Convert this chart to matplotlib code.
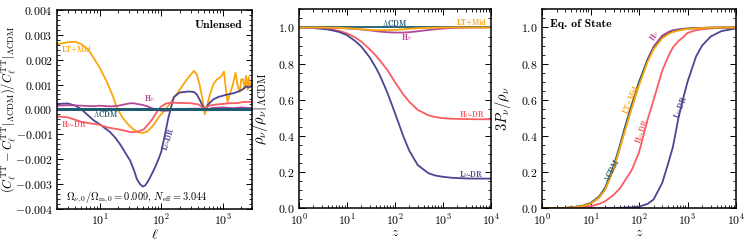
import numpy as np
import matplotlib
matplotlib.use("Agg")
from matplotlib import pyplot as plt
from matplotlib.ticker import AutoMinorLocator, MultipleLocator, LogLocator, NullFormatter

plt.rcParams["font.family"] = "serif"
plt.rcParams["font.serif"] = ["cmr10"]
plt.rcParams["mathtext.fontset"] = "cm"
plt.rcParams["axes.formatter.use_mathtext"] = True
plt.rcParams["axes.unicode_minus"] = True

c_lcdm = "#1f5b70"
c_lt = "#fba60d"
c_h = "#b4479b"
c_hdr = "#fb5c61"
c_ldr = "#4b4592"

# ---- panel 1: unlensed TT residuals ----
ell_lcdm = [2, 3000]
res_lcdm = [0.0, 0.0]

ell_lt = [2, 3, 4, 5, 6.5, 8, 10, 13, 16.5, 19, 23, 28, 35, 42, 50, 60, 75, 95, 120, 150,
          200, 270, 340, 380, 420, 470, 510, 560, 620, 700, 800, 930, 1050, 1130, 1200, 1300,
          1450, 1620, 1750, 1900, 2000, 2140, 2280, 2400, 2550, 2650, 2800, 3000]
res_lt = [2.62, 2.70, 2.72, 2.62, 2.40, 2.05, 1.66, 1.10, 0.50, 0.05, -0.30, -0.57, -0.80, -0.92,
          -0.95, -0.88, -0.62, -0.25, 0.02, 0.35, 0.80, 1.25, 1.55, 1.40, 1.00, 0.40, -0.20, 0.15,
          0.60, 1.00, 1.20, 1.30, 1.52, 0.80, 0.30, 0.60, 0.95, 1.47, 0.95, 0.70, 1.20, 1.22, 0.85,
          1.35, 0.80, 1.30, 0.95, 1.10]

ell_ldr = [2, 3, 4, 5, 6.5, 8, 10, 12, 14.5, 18, 22, 26, 31, 36, 40, 45, 50, 55, 62, 70, 80, 90,
           100, 115, 130, 145, 160, 200, 280, 340, 380, 420, 470, 520, 580, 700, 850, 1000, 1200,
           1500, 1800, 2100, 2400, 2700, 3000]
res_ldr = [0.22, 0.24, 0.15, 0.0, -0.25, -0.45, -0.60, -0.75, -0.90, -1.15, -1.45, -1.75, -2.05,
           -2.45, -2.80, -3.00, -3.10, -3.05, -2.85, -2.60, -2.30, -2.00, -1.70, -1.00, -0.35, 0.10,
           0.50, 0.68, 0.72, 0.70, 0.60, 0.40, 0.15, 0.02, 0.20, 0.40, 0.50, 0.55, 0.60, 0.65, 0.72,
           0.80, 0.92, 0.88, 0.95]

ell_hdr = [2, 3, 4, 5, 6.5, 8, 10, 13, 16, 20, 25, 30, 35, 40, 45, 52, 60, 70, 80, 90, 100, 120,
           150, 200, 300, 400, 470, 520, 600, 800, 1000, 1300, 1700, 2200, 3000]
res_hdr = [-0.28, -0.32, -0.42, -0.50, -0.55, -0.58, -0.62, -0.72, -0.76, -0.80, -0.85, -0.90,
           -0.92, -0.90, -0.86, -0.80, -0.62, -0.42, -0.20, 0.0, 0.12, 0.24, 0.27, 0.26, 0.25, 0.20,
           0.08, 0.05, 0.15, 0.20, 0.22, 0.25, 0.25, 0.30, 0.30]

ell_h = [2, 3, 5, 8, 10, 15, 20, 25, 30, 35, 40, 50, 60, 70, 80, 100, 130, 170, 250, 350, 450,
         500, 550, 700, 1000, 1500, 2000, 2500, 3000]
res_h = [0.15, 0.17, 0.15, 0.13, 0.15, 0.12, 0.15, 0.20, 0.24, 0.25, 0.22, 0.18, 0.12, 0.05, 0.0,
         -0.05, -0.05, 0.0, 0.02, 0.03, 0.02, -0.02, 0.0, 0.06, 0.08, 0.05, 0.08, 0.06, 0.06]

# ---- panel 2: density ratio ----
z_rho = [1, 1.5, 2, 3, 4, 5, 7, 10, 15, 20, 30, 40, 50, 70, 100, 150, 200, 300, 500, 700, 1000,
         1500, 2000, 3000, 5000, 10000]
rho_lcdm = [1.0] * len(z_rho)
rho_lt = [1.0, 1.0, 1.0, 1.0, 0.999, 0.999, 0.998, 0.996, 0.993, 0.990, 0.987, 0.985, 0.985,
          0.985, 0.987, 0.990, 0.993, 0.996, 0.998, 0.999, 1.0, 1.0, 1.0, 1.0, 1.0, 1.0]
rho_h = [1.0, 1.0, 1.0, 0.999, 0.999, 0.998, 0.997, 0.995, 0.992, 0.989, 0.984, 0.980, 0.977,
         0.974, 0.972, 0.972, 0.974, 0.979, 0.986, 0.990, 0.994, 0.997, 0.998, 0.999, 1.0, 1.0]
rho_hdr = [1.0, 0.999, 0.998, 0.995, 0.992, 0.988, 0.981, 0.968, 0.945, 0.922, 0.880, 0.845, 0.815,
           0.765, 0.700, 0.630, 0.590, 0.545, 0.515, 0.505, 0.499, 0.496, 0.495, 0.494, 0.493, 0.493]
rho_ldr = [1.0, 0.999, 0.997, 0.993, 0.989, 0.984, 0.975, 0.958, 0.925, 0.895, 0.835, 0.780,
           0.730, 0.640, 0.530, 0.400, 0.320, 0.240, 0.195, 0.182, 0.175, 0.170, 0.168, 0.166,
           0.165, 0.165]

# ---- panel 3: equation of state ----
z_eos = [1, 2, 3, 5, 7, 10, 15, 20, 30, 40, 50, 70, 100, 150, 200, 300, 400, 500, 650, 800,
         1000, 1500, 2000, 3000, 5000, 10000]
eos_lcdm = [0.0, 0.001, 0.003, 0.009, 0.016, 0.030, 0.066, 0.115, 0.235, 0.345, 0.440, 0.570,
            0.700, 0.820, 0.885, 0.945, 0.967, 0.978, 0.986, 0.990, 0.993, 0.996, 0.998, 0.999,
            1.0, 1.0]
eos_lt = [0.0, 0.001, 0.003, 0.008, 0.014, 0.026, 0.060, 0.105, 0.220, 0.330, 0.420, 0.550, 0.680,
          0.810, 0.880, 0.940, 0.963, 0.975, 0.983, 0.988, 0.992, 0.995, 0.997, 0.999, 1.0, 1.0]
eos_h = [0.0, 0.001, 0.003, 0.008, 0.014, 0.026, 0.060, 0.105, 0.222, 0.333, 0.425, 0.557, 0.690,
         0.825, 0.895, 0.955, 0.975, 0.985, 0.990, 0.993, 0.995, 0.997, 0.998, 0.999, 1.0, 1.0]
eos_hdr = [0.0, 0.0, 0.001, 0.003, 0.006, 0.012, 0.025, 0.040, 0.075, 0.110, 0.150, 0.210, 0.310,
           0.490, 0.600, 0.760, 0.840, 0.890, 0.925, 0.945, 0.970, 0.985, 0.990, 0.995, 0.998, 1.0]
eos_ldr = [0.0, 0.0, 0.0, 0.0, 0.0, 0.0, 0.0, 0.001, 0.002, 0.003, 0.005, 0.006, 0.010, 0.025,
           0.050, 0.140, 0.250, 0.340, 0.500, 0.600, 0.700, 0.840, 0.900, 0.950, 0.980, 0.995]


def style_axis(ax):
    ax.tick_params(which="both", direction="in", top=True, right=True, labelsize=8.5, pad=3)
    ax.tick_params(which="major", length=4, width=0.7)
    ax.tick_params(which="minor", length=2, width=0.6)
    for s in ax.spines.values():
        s.set_linewidth(1.1)
    ax.xaxis.set_minor_locator(LogLocator(base=10, subs=np.arange(2, 10) * 1.0, numticks=20))
    ax.xaxis.set_minor_formatter(NullFormatter())


def label(ax, x, y, s, color, rot=0, size=5.5, ha="center"):
    ax.text(x, y, s, color=color, fontsize=size, rotation=rot, ha=ha, va="center",
            family="cmb10", rotation_mode="anchor")


fig = plt.figure(figsize=(7.47, 2.41), dpi=100)
ax1 = fig.add_axes([0.0763, 0.133, 0.261, 0.826])
ax2 = fig.add_axes([0.400, 0.135, 0.257, 0.826])
ax3 = fig.add_axes([0.7256, 0.135, 0.2597, 0.826])

lw = 1.3
ax1.plot(ell_lt, np.array(res_lt) * 1e-3, color=c_lt, lw=lw)
ax1.plot(ell_ldr, np.array(res_ldr) * 1e-3, color=c_ldr, lw=lw)
ax1.plot(ell_hdr, np.array(res_hdr) * 1e-3, color=c_hdr, lw=lw)
ax1.plot(ell_h, np.array(res_h) * 1e-3, color=c_h, lw=lw)
ax1.plot(ell_lcdm, res_lcdm, color=c_lcdm, lw=2.2)
ax1.set_xscale("log")
ax1.set_xlim(2, 3000)
ax1.set_ylim(-0.004, 0.004)
ax1.yaxis.set_major_locator(MultipleLocator(0.001))
ax1.yaxis.set_minor_locator(AutoMinorLocator(5))
ax1.yaxis.set_major_formatter(plt.FuncFormatter(lambda v, p: f"${v:.3f}$"))
style_axis(ax1)
ax1.set_xlabel(r"$\ell$", fontsize=10)
ax1.xaxis.set_label_coords(0.5, -0.095)
ax1.set_ylabel(r"$(C_\ell^{\rm TT}-C_\ell^{\rm TT}|_{\Lambda{\rm CDM}})/C_\ell^{\rm TT}|_{\Lambda{\rm CDM}}$",
               fontsize=9)
ax1.yaxis.set_label_coords(-0.2, 0.5)
ax1.text(0.95, 0.925, "Unlensed", transform=ax1.transAxes, ha="right", va="center",
         fontsize=8.5, family="cmb10")
ax1.text(0.045, 0.06, r"$\Omega_{\nu,0}/\Omega_{\rm m,0}=0.009$, $N_{\rm eff}=3.044$",
         transform=ax1.transAxes, ha="left", va="center", fontsize=7.5)
label(ax1, 2.35, 0.0024, "LT+Mid", c_lt, ha="left")
label(ax1, 66, 0.00045, r"H$\nu$", c_h)
label(ax1, 12.5, -0.00017, r"$\Lambda$CDM", c_lcdm)
label(ax1, 2.35, -0.00058, r"H$\nu$-DR", c_hdr, ha="left")
label(ax1, 130, -0.00118, r"L$\nu$-DR", c_ldr, rot=72)

ax2.plot(z_rho, rho_hdr, color=c_hdr, lw=lw)
ax2.plot(z_rho, rho_ldr, color=c_ldr, lw=lw)
ax2.plot(z_rho, rho_h, color=c_h, lw=lw)
ax2.plot(z_rho, rho_lcdm, color=c_lcdm, lw=lw)
ax2.plot(z_rho, rho_lt, color=c_lt, lw=lw)
ax2.set_xscale("log")
ax2.set_xlim(1, 1e4)
ax2.set_ylim(0, 1.1)
ax2.yaxis.set_major_locator(MultipleLocator(0.2))
ax2.yaxis.set_minor_locator(AutoMinorLocator(4))
ax2.yaxis.set_major_formatter(plt.FuncFormatter(lambda v, p: f"${v:.1f}$"))
style_axis(ax2)
ax2.set_xlabel(r"$z$", fontsize=10)
ax2.xaxis.set_label_coords(0.5, -0.095)
ax2.set_ylabel(r"$\rho_\nu/\rho_\nu|_{\Lambda{\rm CDM}}$", fontsize=10.5)
ax2.yaxis.set_label_coords(-0.15, 0.5)
label(ax2, 100, 1.024, r"$\Lambda$CDM", c_lcdm)
label(ax2, 4000, 1.024, "LT+Mid", c_lt)
label(ax2, 180, 0.95, r"H$\nu$", c_h)
label(ax2, 4000, 0.52, r"H$\nu$-DR", c_hdr)
label(ax2, 4000, 0.19, r"L$\nu$-DR", c_ldr)

ax3.plot(z_eos, eos_ldr, color=c_ldr, lw=lw)
ax3.plot(z_eos, eos_hdr, color=c_hdr, lw=lw)
ax3.plot(z_eos, eos_h, color=c_h, lw=lw)
ax3.plot(z_eos, eos_lcdm, color=c_lcdm, lw=lw)
ax3.plot(z_eos, eos_lt, color=c_lt, lw=lw)
ax3.set_xscale("log")
ax3.set_xlim(1, 1e4)
ax3.set_ylim(0, 1.1)
ax3.yaxis.set_major_locator(MultipleLocator(0.2))
ax3.yaxis.set_minor_locator(AutoMinorLocator(4))
ax3.yaxis.set_major_formatter(plt.FuncFormatter(lambda v, p: f"${v:.1f}$"))
style_axis(ax3)
ax3.set_xlabel(r"$z$", fontsize=10)
ax3.xaxis.set_label_coords(0.5, -0.095)
ax3.set_ylabel(r"$3P_\nu/\rho_\nu$", fontsize=10.5)
ax3.yaxis.set_label_coords(-0.15, 0.5)
ax3.text(0.04, 0.925, "Eq. of State", transform=ax3.transAxes, ha="left", va="center",
         fontsize=8.5, family="cmb10")
label(ax3, 210, 0.96, r"H$\nu$", c_h, rot=55)
label(ax3, 70, 0.60, "LT+Mid", c_lt, rot=68)
label(ax3, 27, 0.21, r"$\Lambda$CDM", c_lcdm, rot=62)
label(ax3, 112, 0.43, r"H$\nu$-DR", c_hdr, rot=70)
label(ax3, 720, 0.56, r"L$\nu$-DR", c_ldr, rot=70)

fig.savefig("out.png", dpi=100)
